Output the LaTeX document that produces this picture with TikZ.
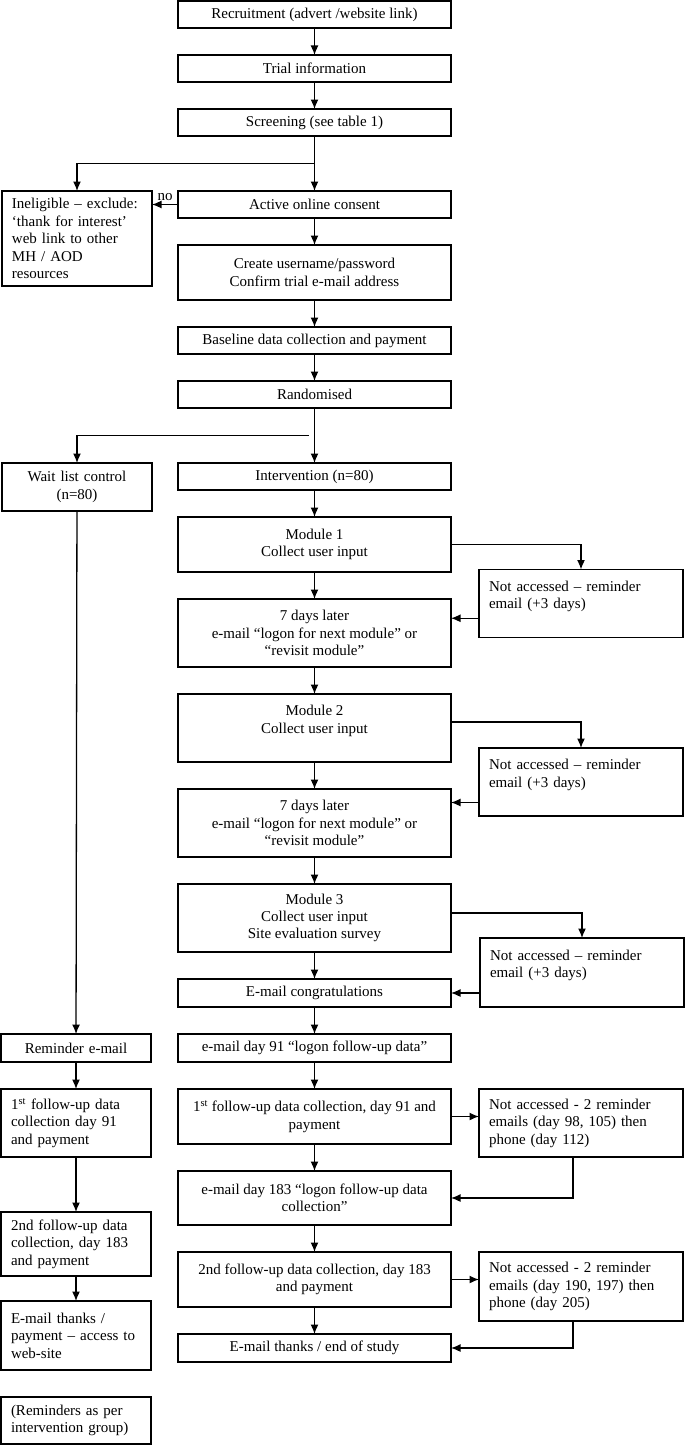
\documentclass[tikz,border=0pt]{standalone}
\usepackage{fontspec}
\setmainfont{Liberation Serif}
\usetikzlibrary{arrows.meta, positioning, calc}

\begin{document}
\begin{tikzpicture}[x=1pt, y=1pt, node distance=27pt, >={Latex[length=9.5pt, width=8pt]}, font=\fontsize{15}{17.4}\selectfont]
  \tikzstyle{stepbox}=[draw, line width=1.1pt, outer sep=0pt, align=center, minimum width=273pt, minimum height=27pt, inner sep=2pt, fill=white]
  \tikzstyle{sidebox}=[draw, line width=1.1pt, outer sep=0pt, align=left, text width=130pt, inner xsep=10pt, inner ysep=2pt, minimum height=27pt, fill=white]
  \tikzstyle{remindbox}=[draw, line width=1.1pt, outer sep=0pt, align=left, text width=184pt, inner xsep=10pt, inner ysep=2pt, minimum height=68pt, fill=white]
  \tikzstyle{link}=[->, line width=1.3pt]

  \useasboundingbox (0,0) rectangle (685,-1445);

  % Main column (top -> bottom)
  \node[stepbox] (rec) at (314.5,-14.5) {Recruitment (advert /website link)};
  \node[stepbox, below=of rec] (trial) {Trial information};
  \node[stepbox, below=of trial] (screen) {Screening (see table 1)};
  \node[stepbox, below=55pt of screen] (consent) {Active online consent};
  \node[stepbox, below=of consent, minimum height=55pt] (create) {Create username/password\\Confirm trial e-mail address};
  \node[stepbox, below=of create] (base) {Baseline data collection and payment};
  \node[stepbox, below=of base] (rand) {Randomised};
  \node[stepbox, below=55pt of rand] (interv) {Intervention (n=80)};
  \node[stepbox, below=of interv, minimum height=55pt] (mod1) {Module 1\\Collect user input};
  \node[stepbox, below=of mod1, minimum height=68pt] (later1) {7 days later\\e-mail “logon for next module” or\\“revisit module”};
  \node[stepbox, below=of later1, minimum height=68pt] (mod2) {Module 2\\Collect user input\\~};
  \node[stepbox, below=of mod2, minimum height=68pt] (later2) {7 days later\\e-mail “logon for next module” or\\“revisit module”};
  \node[stepbox, below=of later2, minimum height=68pt] (mod3) {Module 3\\Collect user input\\Site evaluation survey};
  \node[stepbox, below=of mod3, minimum height=28pt] (congr) {E-mail congratulations};
  \node[stepbox, below=of congr, minimum height=28pt] (day91) {e-mail day 91 “logon follow-up data”};
  \node[stepbox, below=of day91, minimum height=55pt] (fu1) {1\textsuperscript{st} follow-up data collection, day 91 and\\payment};
  \node[stepbox, below=of fu1, minimum height=54pt] (day183) {e-mail day 183 “logon follow-up data\\collection”};
  \node[stepbox, below=of day183, minimum height=55pt] (fu2) {2nd follow-up data collection, day 183\\and payment};
  \node[stepbox, below=of fu2, minimum height=28pt] (thanks) {E-mail thanks / end of study};

  % Left column
  \node[sidebox, anchor=north east, minimum height=95pt] (inel) at ([xshift=-26pt]consent.north west) {Ineligible – exclude:\\‘thank for interest’\\web link to other\\MH / AOD\\resources};
  \node[sidebox, anchor=north east, align=center, minimum height=48pt] (wait) at ([xshift=-26pt]interv.north west) {Wait list control\\(n=80)};
  \node[sidebox, anchor=north east, align=center, minimum height=28pt] (remind) at ([xshift=-27pt]day91.north west) {Reminder e-mail};
  \node[sidebox, below=of remind, minimum height=68pt] (lfu1) {1\textsuperscript{st} follow-up data\\collection day 91\\and payment};
  \node[sidebox, below=55pt of lfu1, minimum height=64pt] (lfu2) {2nd follow-up data\\collection, day 183\\and payment};
  \node[sidebox, below=25pt of lfu2, minimum height=69pt] (lthanks) {E-mail thanks /\\payment – access to\\web-site};
  \node[sidebox, below=of lthanks, minimum height=47pt] (note) {(Reminders as per\\intervention group)};

  % Right column (reminders)
  \node[remindbox, anchor=north west] (na1) at ([xshift=28pt, yshift=2.5pt]mod1.south east) {Not accessed – reminder\\email (+3 days)\\~};
  \node[remindbox, anchor=north west] (na2) at ([xshift=28pt, yshift=14pt]mod2.south east) {Not accessed – reminder\\email (+3 days)\\~};
  \node[remindbox, anchor=north west, minimum height=69pt] (na3) at ([xshift=29pt, yshift=14pt]mod3.south east) {Not accessed – reminder\\email (+3 days)\\~};
  \node[remindbox, anchor=north west] (na4) at ([xshift=28pt]fu1.north east) {Not accessed - 2 reminder\\emails (day 98, 105) then\\phone (day 112)};
  \node[remindbox, anchor=north west, minimum height=69pt] (na5) at ([xshift=28pt]fu2.north east) {Not accessed - 2 reminder\\emails (day 190, 197) then\\phone (day 205)};

  % Split points
  \coordinate (split1) at ($(screen.south)!0.5!(consent.north)$);
  \coordinate (split2) at ($(rand.south)!0.5!(interv.north)$);

  % Main flow
  \draw[link] (rec) -- (trial);
  \draw[link] (trial) -- (screen);
  \draw[link] (screen) -- (consent);
  \draw[link] (split1) -| (inel.north);
  \draw[link] (consent.west) -- node[above]{no} (consent.west -| inel.east);
  \draw[link] (consent) -- (create);
  \draw[link] (create) -- (base);
  \draw[link] (base) -- (rand);
  \draw[link] (rand) -- (interv);
  \draw[link] ([xshift=-6pt]split2) -| (wait.north);
  \draw[link] (interv) -- (mod1);
  \draw[link] (mod1) -- (later1);
  \draw[link] (later1) -- (mod2);
  \draw[link] (mod2) -- (later2);
  \draw[link] (later2) -- (mod3);
  \draw[link] (mod3) -- (congr);
  \draw[link] (congr) -- (day91);
  \draw[link] (day91) -- (fu1);
  \draw[link] (fu1) -- (day183);
  \draw[link] (day183) -- (fu2);
  \draw[link] (fu2) -- (thanks);

  % Reminder loops
  \draw[link] (mod1.east) -| (na1.north);
  \draw[link] ([yshift=6pt]mod2.east) -| (na2.north);
  \draw[link] ([yshift=5pt]mod3.east) -| (na3.north);
  \path (na1.south west) -- coordinate[midway] (m1) (na1.west |- later1.north);
  \path (na2.south west) -- coordinate[midway] (m2) (na2.west |- later2.north);
  \path (na3.south west) -- coordinate[midway] (m3) (na3.west |- congr.north);
  \draw[link] (m1) -- (m1 -| later1.east);
  \draw[link] (m2) -- (m2 -| later2.east);
  \draw[link] (m3) -- (m3 -| congr.east);
  \draw[link] (fu1.east) -- (fu1.east -| na4.west);
  \draw[link] (fu2.east) -- (fu2.east -| na5.west);
  \draw[link] ([xshift=-8pt]na4.south) |- (day183.east);
  \draw[link] ([xshift=-8pt]na5.south) |- (thanks.east);

  % Wait list column
  \draw[link] (wait) -- (remind);
  \draw[link] (remind) -- (lfu1);
  \draw[link] (lfu1) -- (lfu2);
  \draw[link] (lfu2) -- (lthanks);
\end{tikzpicture}
\end{document}
